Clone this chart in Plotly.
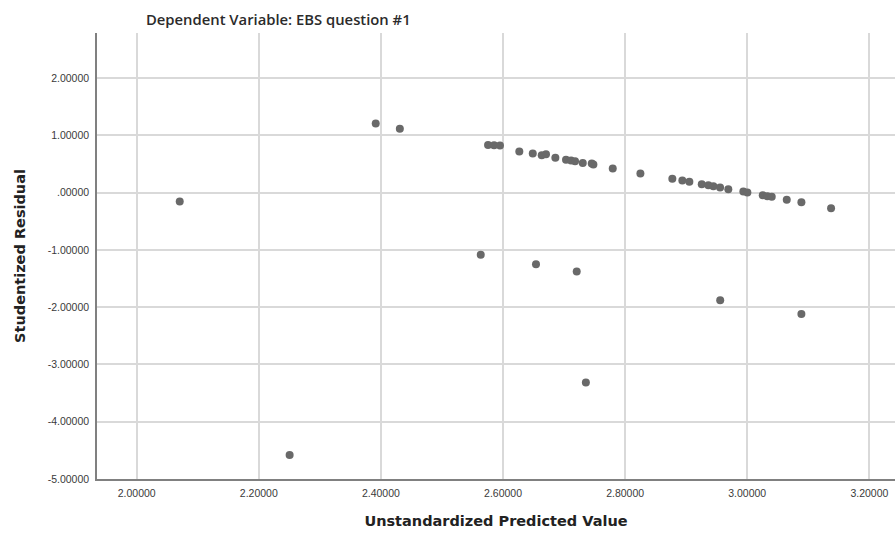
import plotly.graph_objects as go

# Unstandardized predicted values and studentized residuals
predicted = [
    2.0705, 2.2505, 2.3915, 2.4310, 2.5635, 2.5755, 2.5853, 2.5950, 2.6267, 2.6487,
    2.6540, 2.6634, 2.6704, 2.6857, 2.7032, 2.7114, 2.7180, 2.7207, 2.7306, 2.7357,
    2.7453, 2.7480, 2.7797, 2.8250, 2.8773, 2.8937, 2.9052, 2.9255, 2.9363, 2.9445,
    2.9555, 2.9557, 2.9690, 2.9936, 3.0002, 3.0254, 3.0329, 3.0401, 3.0647, 3.0887,
    3.0887, 3.1373,
]
residual = [
    -0.155, -4.580, 1.205, 1.112, -1.087, 0.830, 0.826, 0.822, 0.716, 0.681,
    -1.250, 0.653, 0.670, 0.606, 0.571, 0.558, 0.548, -1.378, 0.518, -3.316,
    0.506, 0.489, 0.419, 0.332, 0.239, 0.209, 0.187, 0.147, 0.129, 0.112,
    0.087, -1.878, 0.059, 0.017, 0.000, -0.045, -0.063, -0.075, -0.127, -0.168,
    -2.122, -0.272,
]

x_ticks = [2.0, 2.2, 2.4, 2.6, 2.8, 3.0, 3.2]
x_labels = ["2.00000", "2.20000", "2.40000", "2.60000", "2.80000", "3.00000", "3.20000"]
y_ticks = [2, 1, 0, -1, -2, -3, -4, -5]
y_labels = ["2.00000", "1.00000", ".00000", "-1.00000", "-2.00000", "-3.00000", "-4.00000", "-5.00000"]

fig = go.Figure(
    go.Scatter(
        x=predicted,
        y=residual,
        mode="markers",
        marker=dict(color="#696969", size=8, line=dict(width=0)),
        hoverinfo="x+y",
    )
)

tick_font = dict(family="Liberation Sans, Arial, sans-serif", size=10.5, color="#3a3a3a")
title_font = dict(family="DejaVu Sans, sans-serif", size=14.5, color="#222222", weight="bold")

fig.update_layout(
    width=895,
    height=535,
    margin=dict(l=97, r=0, t=33, b=56),
    paper_bgcolor="white",
    plot_bgcolor="white",
    showlegend=False,
    title=dict(
        text="Dependent Variable: EBS question #1",
        xref="container", yref="container",
        x=146 / 895, y=1 - 20 / 535,
        xanchor="left", yanchor="middle",
        font=dict(family="Open Sans, sans-serif", size=14.8, color="#2b2b2b", weight=600),
    ),
    xaxis=dict(
        range=[1.935, 3.242],
        tickvals=x_ticks,
        ticktext=x_labels,
        tickfont=tick_font,
        showgrid=True,
        gridcolor="#d9d9d9",
        gridwidth=1.5,
        zeroline=False,
        showline=True,
        linecolor="#808080",
        linewidth=1.5,
        ticks="",
        ticklabelstandoff=4,
        title=dict(
            text="Unstandardized Predicted Value",
            font=title_font,
            standoff=18,
        ),
    ),
    yaxis=dict(
        range=[-5, 2.785],
        tickvals=y_ticks,
        ticktext=y_labels,
        tickfont=tick_font,
        showgrid=True,
        gridcolor="#d9d9d9",
        gridwidth=1.5,
        zeroline=False,
        showline=True,
        linecolor="#808080",
        linewidth=1.5,
        ticks="",
        ticklabelstandoff=4,
        title=dict(
            text="Studentized Residual",
            font=title_font,
            standoff=19,
        ),
    ),
)

fig.write_html("out.html")
